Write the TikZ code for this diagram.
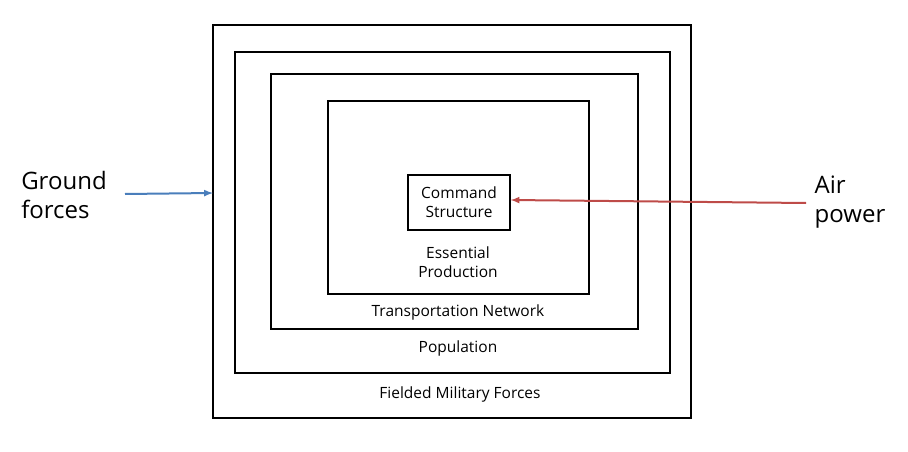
\documentclass[tikz,border=0pt]{standalone}
\usepackage{fontspec}
\setmainfont{Open Sans}
\begin{document}
\begin{tikzpicture}[x=1pt,y=-1pt,
  box/.style={draw=black,line width=1.2pt},
  lbl/.style={font=\fontsize{15.5}{19}\selectfont,align=center},
  big/.style={font=\fontsize{24}{29}\selectfont,align=left}]
\useasboundingbox (0,0) rectangle (908,452);
\draw[box] (213,25) rectangle (691,418);
\draw[box] (235,52) rectangle (670,373);
\draw[box] (271,74) rectangle (638,329);
\draw[box] (328,101) rectangle (589,294);
\node[box,lbl,minimum width=102pt,minimum height=55pt,inner sep=0pt] (cmd) at (459,202.5) {Command\\Structure};
\node[lbl] (fmf) at (460,394) {Fielded Military Forces};
\node[lbl] (pop) at (458,348) {Population};
\node[lbl] (tn) at (458,312) {Transportation Network};
\node[lbl] (ep) at (458,262) {Essential\\Production};
\node[big] (gf) at (64,195) {Ground\\forces};
\node[big] (ap) at (850,202) {Air\\power};
\coordinate (g1) at (125,194);
\coordinate (g2) at (213,193);
\draw[-latex,line width=2pt,color={rgb,255:red,74;green,126;blue,187}] (g1) -- (g2);
\coordinate (a1) at (806,203);
\draw[-latex,line width=2pt,color={rgb,255:red,190;green,75;blue,72}] (a1) -- (cmd.east |- 0,200);
\end{tikzpicture}
\end{document}
